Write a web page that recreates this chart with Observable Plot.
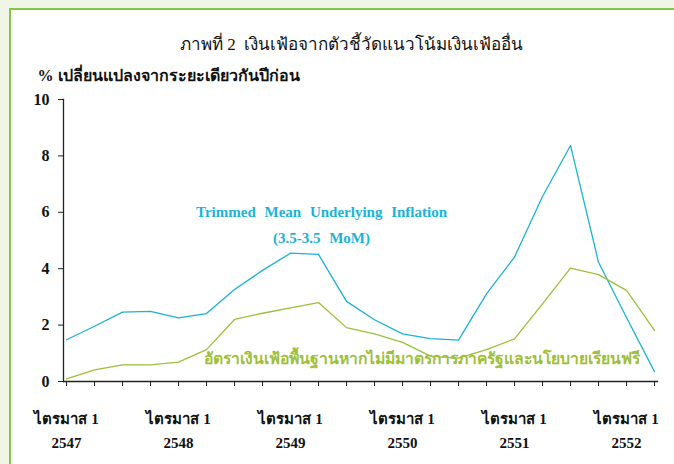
<!DOCTYPE html>
<html>
<head>
<meta charset="utf-8">
<script src="https://cdn.jsdelivr.net/npm/d3@7"></script>
<script src="https://cdn.jsdelivr.net/npm/@observablehq/plot@0.6"></script>
<style>
  html, body { margin: 0; padding: 0; }
  body { width: 674px; height: 464px; background: #f0f6e6; position: relative; overflow: hidden; }
  #panel { position: absolute; left: 9px; top: 8px; right: 0; bottom: 0; background: #ffffff;
           border-left: 2px solid #86c74a; border-top: 2px solid #86c74a; }
  #chart { position: absolute; left: 0; top: 0; }
  #chart svg { background: transparent; overflow: visible; }
</style>
</head>
<body>
<div id="panel"></div>
<div id="chart"></div>
<script>
const quarters = [
  "1/2547","2/2547","3/2547","4/2547",
  "1/2548","2/2548","3/2548","4/2548",
  "1/2549","2/2549","3/2549","4/2549",
  "1/2550","2/2550","3/2550","4/2550",
  "1/2551","2/2551","3/2551","4/2551",
  "1/2552","2/2552"
];
const trimmedMean = [1.48, 1.96, 2.46, 2.49, 2.26, 2.41, 3.26, 3.94, 4.55, 4.51, 2.84,
                     2.19, 1.69, 1.52, 1.47, 3.11, 4.41, 6.56, 8.37, 4.23, 2.27, 0.35];
const coreNoMeasures = [0.09, 0.41, 0.59, 0.59, 0.69, 1.13, 2.20, 2.42, 2.61, 2.80, 1.91,
                        1.69, 1.39, 0.90, 0.83, 1.13, 1.51, 2.75, 4.02, 3.79, 3.23, 1.81];
const yTicks = [0, 2, 4, 6, 8, 10];
const titleText = "ภาพที่ 2  เงินเฟ้อจากตัวชี้วัดแนวโน้มเงินเฟ้ออื่น";
const yLabelText = "% เปลี่ยนแปลงจากระยะเดียวกันปีก่อน";
const quarterLabel = "ไตรมาส 1";
const blueLabel1 = "Trimmed Mean Underlying Inflation";
const blueLabel2 = "(3.5-3.5 MoM)";
const greenLabel = "อัตราเงินเฟ้อพื้นฐานหากไม่มีมาตรการภาครัฐและนโยบายเรียนฟรี";

const blue = "#1bb3d8";
const green = "#9dbf3b";
const FONT = "'Times New Roman', 'Liberation Serif', 'DejaVu Serif', serif";

const rows = quarters.map((q, i) => ({q, tm: trimmedMean[i], core: coreNoMeasures[i]}));
const isQ1 = q => q.startsWith("1/");

const plot = Plot.plot({
  width: 674,
  height: 464,
  marginLeft: 63,
  marginRight: 17,
  marginTop: 99,
  marginBottom: 83,
  style: {fontFamily: FONT, background: "transparent", color: "#111"},
  x: {type: "point", domain: quarters, padding: 0},
  y: {domain: [0, 10]},
  marks: [
    Plot.frame({anchor: "left", stroke: "#222", strokeWidth: 1.3}),
    Plot.frame({anchor: "bottom", stroke: "#222", strokeWidth: 1.3}),
    Plot.axisY({ticks: yTicks, tickSize: 5, tickPadding: 9, fontSize: 16, fontWeight: "bold", stroke: "#222", label: null}),
    Plot.axisX({tickSize: 5, tickFormat: () => "", stroke: "#222", label: null}),
    Plot.axisX({ticks: quarters.filter(isQ1), tickSize: 0, tickPadding: 32, fontSize: 15, fontWeight: "bold",
                tickFormat: () => quarterLabel, label: null}),
    Plot.axisX({ticks: quarters.filter(isQ1), tickSize: 0, tickPadding: 56, fontSize: 15, fontWeight: "bold",
                tickFormat: q => q.split("/")[1], label: null}),
    Plot.line(rows, {x: "q", y: "tm", stroke: blue, strokeWidth: 1.3}),
    Plot.line(rows, {x: "q", y: "core", stroke: green, strokeWidth: 1.3}),
    Plot.text([blueLabel1], {x: () => "2/2549", y: () => 6.0, text: d => d, fill: blue, fontSize: 15,
               fontWeight: "bold", dx: 3, textAnchor: "middle", lineAnchor: "middle"}),
    Plot.text([blueLabel2], {x: () => "2/2549", y: () => 5.07, text: d => d, fill: blue, fontSize: 15,
               fontWeight: "bold", dx: 3, textAnchor: "middle", lineAnchor: "middle"}),
    Plot.text([greenLabel], {x: () => "1/2550", y: () => 0.8, text: d => d, fill: green, fontSize: 15.7,
               fontWeight: "bold", dx: 19, textAnchor: "middle", lineAnchor: "middle"}),
    Plot.text([titleText], {frameAnchor: "top", dx: -9, dy: -55, text: d => d, fontSize: 17,
               fill: "#111", lineAnchor: "middle"}),
    Plot.text([yLabelText], {frameAnchor: "top-left", dx: -26, dy: -24, text: d => d, fontSize: 16,
               fontWeight: "bold", fill: "#111", textAnchor: "start", lineAnchor: "middle"})
  ]
});
d3.select(plot).selectAll("text")
  .filter(function() { return this.textContent === blueLabel1 || this.textContent === blueLabel2; })
  .style("word-spacing", "5px");
document.getElementById("chart").appendChild(plot);
</script>
</body>
</html>
